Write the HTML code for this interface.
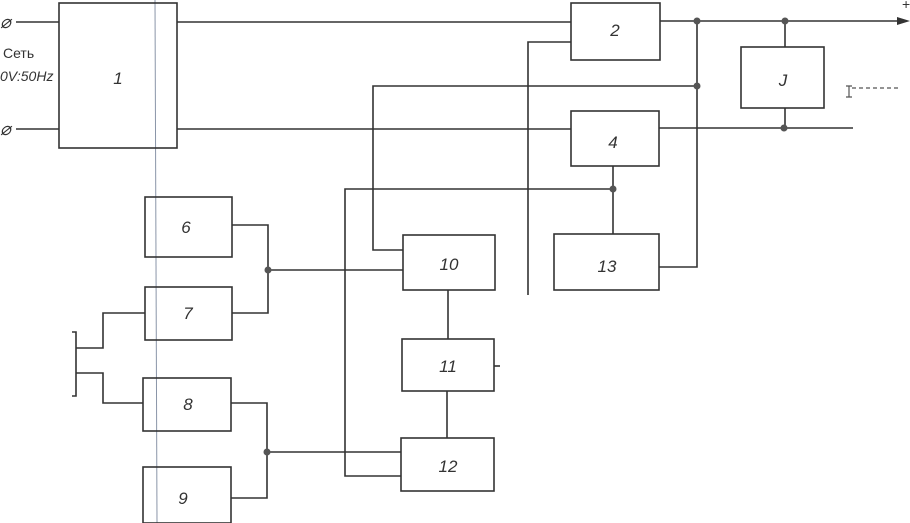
<!DOCTYPE html>
<html><head><meta charset="utf-8"><style>
html,body{margin:0;padding:0;background:#fff}
svg{display:block}
text{font-family:"Liberation Sans",sans-serif;fill:#333}
.n{font-style:italic;font-size:17px;text-anchor:middle}
</style></head><body>
<svg width="910" height="523" viewBox="0 0 910 523" xmlns="http://www.w3.org/2000/svg">
<line x1="155" y1="0" x2="157" y2="523" stroke="#8a95a8" stroke-width="1"/>
<g stroke="#333" stroke-width="1.6" fill="none">
<rect x="59" y="3" width="118" height="145"/>
<rect x="571" y="3" width="89" height="57"/>
<rect x="571" y="111" width="88" height="55"/>
<rect x="741" y="47" width="83" height="61"/>
<rect x="554" y="234" width="105" height="56"/>
<rect x="403" y="235" width="92" height="55"/>
<rect x="402" y="339" width="92" height="52"/>
<rect x="401" y="438" width="93" height="53"/>
<rect x="145" y="197" width="87" height="60"/>
<rect x="145" y="287" width="87" height="53"/>
<rect x="143" y="378" width="88" height="53"/>
<rect x="143" y="467" width="88" height="56"/>
<polyline points="16,22 59,22"/>
<polyline points="16,129 59,129"/>
<polyline points="177,22 571,22"/>
<polyline points="177,129 571,129"/>
<polyline points="660,21 900,21"/>
<polyline points="659,128 853,128"/>
<polyline points="785,21 785,47"/>
<polyline points="785,108 785,128"/>
<polyline points="697,21 697,267 659,267"/>
<polyline points="697,86 373,86 373,250 403,250"/>
<polyline points="571,42 528,42 528,295"/>
<polyline points="613,166 613,234"/>
<polyline points="613,189 345,189 345,476 401,476"/>
<polyline points="448,290 448,339"/>
<polyline points="447,391 447,438"/>
<polyline points="494,366 500,366"/>
<polyline points="232,225 268,225 268,313 232,313"/>
<polyline points="268,270 403,270"/>
<polyline points="231,403 267,403 267,498 231,498"/>
<polyline points="267,452 401,452"/>
<polyline points="72,332 76,332 76,396 72,396"/>
<polyline points="76,348 103,348 103,313 145,313"/>
<polyline points="76,373 103,373 103,403 143,403"/>
</g>
<g stroke="#555" stroke-width="1.2" fill="none">
<path d="M849,86 L849,97 M846,86 L852,86 M846,97 L852,97"/>
<path d="M852,88 L898,88" stroke-dasharray="4,3"/>
</g>
<path d="M897,17 L910,21 L897,25 Z" fill="#333"/>
<g fill="#555">
<circle cx="697" cy="21" r="3.5"/><circle cx="785" cy="21" r="3.5"/>
<circle cx="697" cy="86" r="3.5"/><circle cx="784" cy="128" r="3.5"/>
<circle cx="613" cy="189" r="3.5"/><circle cx="268" cy="270" r="3.5"/>
<circle cx="267" cy="452" r="3.5"/>
</g>
<text x="0" y="28" font-size="18" font-style="italic">⌀</text>
<text x="0" y="135" font-size="18" font-style="italic">⌀</text>
<text x="3" y="58" font-size="14" font-family="Liberation Mono">Сеть</text>
<text x="0" y="81" font-size="14" font-style="italic">0V:50Hz</text>
<text x="902" y="9" font-size="14">+</text>
<text class="n" x="118" y="84">1</text>
<text class="n" x="615" y="36">2</text>
<text class="n" x="783" y="86">J</text>
<text class="n" x="613" y="148">4</text>
<text class="n" x="607" y="272">13</text>
<text class="n" x="449" y="270">10</text>
<text class="n" x="448" y="372">11</text>
<text class="n" x="448" y="472">12</text>
<text class="n" x="186" y="233">6</text>
<text class="n" x="188" y="319">7</text>
<text class="n" x="188" y="410">8</text>
<text class="n" x="183" y="504">9</text>
</svg>
</body></html>
